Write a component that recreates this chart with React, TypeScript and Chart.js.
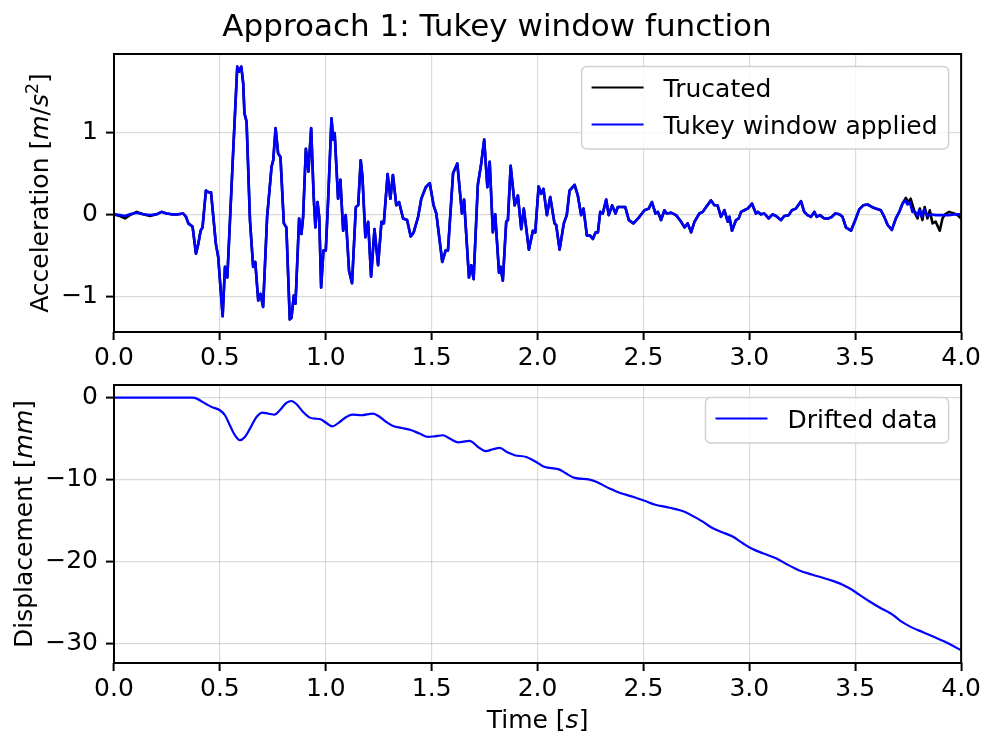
import React, { useEffect, useRef } from "react";
import { Chart, registerables } from "chart.js";

Chart.register(...registerables);

const FONT = "'DejaVu Sans', 'Noto Sans', sans-serif";

// ---- Tick values ----
const timeTicks = [0, 0.5, 1, 1.5, 2, 2.5, 3, 3.5, 4];
const accelTicks = [-1, 0, 1];
const dispTicks = [-30, -20, -10, 0];

// ---- Acceleration [m/s^2]: start segment (window taper) ----
const accelHeadTime = [0, 0.028, 0.052, 0.075, 0.107, 0.138, 0.17, 0.201, 0.225, 0.248, 0.272, 0.303];
const truncatedHead = [0, -0.02, -0.05, -0.01, 0.03, 0.0, -0.02, 0.0, 0.03, 0.01, 0.0, 0.0];
const windowedHead = [0, -0.01, -0.02, 0.0, 0.02, 0.0, -0.01, 0.0, 0.03, 0.01, 0.0, 0.0];

// ---- Acceleration: middle segment (window equals 1) ----
const accelCoreTime = [
  0.327, 0.34, 0.351, 0.371, 0.387, 0.398, 0.409, 0.418, 0.434, 0.445, 0.458, 0.481, 0.492, 0.513,
  0.524, 0.535, 0.544, 0.563, 0.582, 0.591, 0.601, 0.61, 0.616, 0.626, 0.642, 0.657, 0.667, 0.681,
  0.692, 0.704, 0.723, 0.744, 0.752, 0.763, 0.775, 0.786, 0.802, 0.814, 0.83, 0.838, 0.849, 0.857,
  0.874, 0.885, 0.893, 0.906, 0.918, 0.931, 0.943, 0.951, 0.961, 0.969, 0.978, 0.989, 1.0, 1.011,
  1.027, 1.035, 1.042, 1.058, 1.069, 1.082, 1.094, 1.11, 1.124, 1.142, 1.153, 1.165, 1.173, 1.187,
  1.2, 1.214, 1.23, 1.247, 1.263, 1.274, 1.292, 1.305, 1.317, 1.333, 1.346, 1.365, 1.384, 1.401,
  1.415, 1.436, 1.451, 1.472, 1.491, 1.509, 1.522, 1.55, 1.566, 1.577, 1.601, 1.621, 1.643, 1.653,
  1.676, 1.687, 1.698, 1.718, 1.734, 1.748, 1.763, 1.774, 1.789, 1.8, 1.818, 1.825, 1.836, 1.852,
  1.86, 1.873, 1.892, 1.907, 1.923, 1.935, 1.959, 1.978, 1.989, 2.005, 2.017, 2.028, 2.044, 2.06,
  2.08, 2.088, 2.104, 2.124, 2.138, 2.151, 2.175, 2.19, 2.206, 2.217, 2.233, 2.248, 2.261, 2.274,
  2.285, 2.296, 2.308, 2.324, 2.336, 2.352, 2.368, 2.379, 2.395, 2.414, 2.431, 2.453, 2.481, 2.505,
  2.525, 2.54, 2.557, 2.568, 2.583, 2.599, 2.61, 2.63, 2.654, 2.678, 2.694, 2.709, 2.725, 2.741,
  2.764, 2.78, 2.796, 2.819, 2.835, 2.85, 2.866, 2.882, 2.898, 2.906, 2.918, 2.937, 2.95, 2.961,
  2.976, 2.992, 3.013, 3.031, 3.039, 3.055, 3.071, 3.091, 3.11, 3.126, 3.149, 3.165, 3.186, 3.201,
  3.22, 3.244, 3.259, 3.275, 3.291, 3.307, 3.318, 3.333, 3.354, 3.374, 3.39, 3.406, 3.425, 3.44,
  3.456, 3.48, 3.503, 3.519, 3.538, 3.558, 3.579, 3.597, 3.621, 3.637, 3.653, 3.673, 3.692, 3.708,
  3.723,
];
const accelCore = [
  0.01, -0.03, -0.11, -0.15, -0.48, -0.36, -0.2, -0.16, 0.29, 0.27, 0.27, -0.36, -0.52, -1.24,
  -0.64, -0.77, -0.28, 0.78, 1.8, 1.74, 1.8, 1.6, 1.23, 1.13, -0.07, -0.64, -0.58, -1.05,
  -0.97, -1.13, -0.03, 0.58, 0.66, 1.05, 0.74, 0.7, -0.11, -0.16, -1.28, -1.26, -0.99, -1.09,
  -0.05, -0.24, -0.03, 0.8, 0.52, 1.05, 0.21, -0.16, 0.15, -0.03, -0.89, -0.44, -0.44, 0.17,
  1.17, 0.91, 0.99, 0.19, 0.42, -0.2, -0.01, -0.69, -0.84, 0.09, 0.11, 0.66, 0.46, -0.28,
  -0.09, -0.76, -0.18, -0.62, -0.09, -0.11, 0.49, 0.19, 0.48, 0.11, 0.15, -0.05, -0.07, -0.27,
  -0.22, -0.03, 0.19, 0.33, 0.38, 0.11, 0.01, -0.58, -0.44, -0.44, 0.5, 0.62, 0.01, 0.18,
  -0.77, -0.62, -0.79, 0.36, 0.62, 0.91, 0.33, 0.64, -0.22, 0.0, -0.71, -0.64, -0.81, -0.09,
  -0.07, 0.59, 0.11, 0.23, -0.18, 0.07, -0.43, -0.2, -0.22, 0.34, 0.25, 0.31, -0.01, 0.21,
  -0.11, -0.13, -0.43, -0.11, -0.01, 0.29, 0.36, 0.23, -0.01, 0.07, -0.26, -0.26, -0.3, -0.22,
  -0.22, 0.03, 0.01, 0.18, -0.01, 0.11, 0.01, 0.09, 0.09, 0.09, -0.07, -0.11, -0.03, 0.05,
  0.07, 0.15, 0.01, 0.03, -0.07, 0.05, 0.01, 0.02, -0.01, -0.09, -0.16, -0.11, -0.22, -0.09,
  0.01, 0.03, 0.09, 0.17, 0.11, 0.11, -0.03, 0.05, -0.09, -0.03, -0.2, -0.07, -0.05, 0.03,
  0.05, 0.07, 0.13, 0.01, 0.03, 0.0, 0.01, -0.05, 0.0, -0.02, -0.07, -0.02, -0.01, 0.05,
  0.07, 0.16, 0.03, -0.01, -0.03, 0.03, -0.03, -0.01, -0.05, -0.05, -0.03, 0.01, 0.0, -0.03,
  -0.16, -0.2, -0.05, 0.06, 0.11, 0.12, 0.09, 0.07, 0.05, -0.03, -0.13, -0.19, -0.05, 0.03,
  0.13,
];

// ---- Acceleration: end segment (window taper) ----
const truncatedTailTime = [
  3.739, 3.75, 3.762, 3.773, 3.783, 3.794, 3.805, 3.817, 3.828, 3.841, 3.852, 3.865, 3.88, 3.899,
  3.912, 3.924, 3.943, 3.967, 3.983, 4.0,
];
const truncatedTail = [
  0.2, 0.15, 0.19, 0.09, 0.01, -0.05, 0.07, -0.07, 0.09, -0.05, 0.05, -0.11, -0.09, -0.2,
  -0.05, 0.0, 0.03, 0.01, -0.01, -0.05,
];
const windowedTailTime = [
  3.736, 3.747, 3.758, 3.77, 3.783, 3.794, 3.802, 3.814, 3.825, 3.841, 3.857, 3.88, 3.912, 3.943,
  3.975, 4.0,
];
const windowedTail = [
  0.17, 0.12, 0.15, 0.03, 0.03, -0.02, 0.05, -0.03, 0.06, -0.02, 0.0, -0.01, -0.01, -0.01,
  0.0, 0.0,
];

// ---- Displacement [mm] ----
const dispTime = [
  0, 0.374, 0.39, 0.437, 0.461, 0.5, 0.524, 0.547, 0.571, 0.594, 0.618, 0.642, 0.673, 0.701,
  0.728, 0.759, 0.783, 0.814, 0.838, 0.862, 0.893, 0.925, 0.948, 0.975, 1.003, 1.031, 1.066, 1.097,
  1.126, 1.168, 1.223, 1.255, 1.286, 1.318, 1.357, 1.404, 1.443, 1.483, 1.514, 1.553, 1.585, 1.624,
  1.679, 1.719, 1.755, 1.789, 1.821, 1.86, 1.892, 1.947, 1.978, 2.006, 2.025, 2.057, 2.104, 2.135,
  2.175, 2.245, 2.277, 2.34, 2.387, 2.45, 2.505, 2.552, 2.623, 2.694, 2.733, 2.78, 2.819, 2.865,
  2.921, 2.969, 3.008, 3.063, 3.126, 3.181, 3.236, 3.299, 3.377, 3.44, 3.479, 3.519, 3.566, 3.613,
  3.676, 3.715, 3.755, 3.818, 3.881, 3.943, 4.0,
];
const dispValues = [
  0, 0, -0.12, -0.81, -1.14, -1.54, -2.15, -3.37, -4.59, -5.2, -4.8, -3.78, -2.36, -1.83,
  -1.95, -2.07, -1.54, -0.65, -0.41, -0.81, -1.75, -2.44, -2.56, -2.64, -3.09, -3.5, -2.97, -2.36,
  -2.07, -2.15, -1.95, -2.36, -2.97, -3.46, -3.7, -3.98, -4.39, -4.8, -4.72, -4.59, -5.0, -5.45,
  -5.28, -6.02, -6.54, -6.3, -6.14, -6.71, -7.03, -7.24, -7.64, -8.05, -8.38, -8.58, -8.79, -9.27,
  -9.8, -10.0, -10.28, -11.09, -11.62, -12.1, -12.59, -13.04, -13.44, -13.93, -14.45, -15.14, -15.83, -16.36,
  -16.96, -17.77, -18.38, -18.99, -19.6, -20.4, -21.09, -21.62, -22.23, -22.83, -23.36, -24.05, -24.86, -25.59,
  -26.48, -27.29, -27.89, -28.62, -29.31, -30.04, -30.85,
];

type Pt = { x: number; y: number };
const toPoints = (xs: number[], ys: number[]): Pt[] => xs.map((x, i) => ({ x, y: ys[i] }));

const truncatedSeries = [
  ...toPoints(accelHeadTime, truncatedHead),
  ...toPoints(accelCoreTime, accelCore),
  ...toPoints(truncatedTailTime, truncatedTail),
];
const windowedSeries = [
  ...toPoints(accelHeadTime, windowedHead),
  ...toPoints(accelCoreTime, accelCore),
  ...toPoints(windowedTailTime, windowedTail),
];
const driftedSeries = toPoints(dispTime, dispValues);

// 5% autoscale margins on the value axes
function paddedRange(values: number[]): [number, number] {
  const lo = Math.min(...values);
  const hi = Math.max(...values);
  const m = (hi - lo) * 0.05;
  return [lo - m, hi + m];
}
const [accMin, accMax] = paddedRange([...truncatedSeries, ...windowedSeries].map((p) => p.y));
const [dispMin, dispMax] = paddedRange(dispValues);

type Part = { text: string; italic?: boolean; sup?: boolean };
type LegendItem = { label: string; color: string };

const TEXT_SIZE = 25;

function partFont(p: Part, size: number) {
  const s = p.sup ? size * 0.7 : size;
  return `${p.italic ? "italic " : ""}${s}px ${FONT}`;
}
function partsWidth(ctx: CanvasRenderingContext2D, parts: Part[], size: number) {
  let w = 0;
  for (const p of parts) {
    ctx.font = partFont(p, size);
    w += ctx.measureText(p.text).width;
  }
  return w;
}
function drawParts(ctx: CanvasRenderingContext2D, parts: Part[], size: number, x: number, y: number) {
  let cx = x;
  for (const p of parts) {
    ctx.font = partFont(p, size);
    ctx.fillText(p.text, cx, p.sup ? y - size * 0.4 : y);
    cx += ctx.measureText(p.text).width;
  }
}

// Frame, legend box, axis titles and figure title
const decorPlugin = {
  id: "decor",
  afterDatasetsDraw(chart: any, _args: any, opts: any) {
    const ctx: CanvasRenderingContext2D = chart.ctx;
    const a = chart.chartArea;
    ctx.save();

    ctx.strokeStyle = "#000";
    ctx.lineWidth = 2;
    ctx.strokeRect(a.left, a.top, a.right - a.left, a.bottom - a.top);

    ctx.fillStyle = "#000";
    ctx.textBaseline = "alphabetic";
    ctx.textAlign = "left";

    if (opts.yTitle) {
      const parts: Part[] = opts.yTitle.parts;
      const w = partsWidth(ctx, parts, TEXT_SIZE);
      ctx.save();
      ctx.translate(opts.yTitle.baselineX, (a.top + a.bottom) / 2);
      ctx.rotate(-Math.PI / 2);
      drawParts(ctx, parts, TEXT_SIZE, -w / 2, 0);
      ctx.restore();
    }
    if (opts.xTitle) {
      const parts: Part[] = opts.xTitle.parts;
      const w = partsWidth(ctx, parts, TEXT_SIZE);
      drawParts(ctx, parts, TEXT_SIZE, (a.left + a.right) / 2 - w / 2, opts.xTitle.baselineY);
    }
    if (opts.title) {
      ctx.font = `${opts.title.size}px ${FONT}`;
      ctx.textAlign = "center";
      ctx.fillText(opts.title.text, opts.title.x, opts.title.baselineY);
      ctx.textAlign = "left";
    }

    if (opts.legend) {
      const items: LegendItem[] = opts.legend;
      ctx.font = `${TEXT_SIZE}px ${FONT}`;
      const textW = Math.max(...items.map((it) => ctx.measureText(it.label).width));
      const w = 10 + 52 + 20 + textW + 11;
      const h = 21 + 37 * (items.length - 1) + 24.5;
      const right = a.right - 12.5;
      const top = a.top + 12.5;
      const left = right - w;
      ctx.beginPath();
      ctx.roundRect(left, top, w, h, 5);
      ctx.fillStyle = "rgba(255,255,255,0.8)";
      ctx.fill();
      ctx.strokeStyle = "#d0d0d0";
      ctx.lineWidth = 1.5;
      ctx.stroke();
      items.forEach((it, i) => {
        const y = top + 21 + i * 37;
        ctx.beginPath();
        ctx.moveTo(left + 10, y);
        ctx.lineTo(left + 62, y);
        ctx.strokeStyle = it.color;
        ctx.lineWidth = 2.2;
        ctx.stroke();
        ctx.fillStyle = "#000";
        ctx.fillText(it.label, left + 82, y + 9);
      });
    }
    ctx.restore();
  },
};

const minusFmt = (v: number) => (v < 0 ? "\u2212" + String(Math.abs(v)) : String(v));

function makeConfig(opts: {
  datasets: any[];
  yMin: number;
  yMax: number;
  yTicks: number[];
  padTop: number;
  xAxisHeight: number;
  decor: any;
}) {
  const tickFont = { family: FONT, size: TEXT_SIZE };
  const grid = {
    color: "rgba(176,176,176,0.45)",
    lineWidth: 1.2,
    tickLength: 8,
    tickWidth: 2,
    tickColor: "#000",
  };
  return {
    type: "line",
    data: { datasets: opts.datasets },
    options: {
      responsive: false,
      animation: false,
      events: [],
      parsing: false,
      layout: { padding: { top: opts.padTop, right: 22, left: 0, bottom: 0 } },
      elements: { point: { radius: 0 }, line: { tension: 0, borderJoinStyle: "round" } },
      plugins: { legend: { display: false }, tooltip: { enabled: false }, decor: opts.decor },
      scales: {
        x: {
          type: "linear",
          min: 0,
          max: 4,
          afterFit: (s: any) => {
            s.height = opts.xAxisHeight;
          },
          afterBuildTicks: (s: any) => {
            s.ticks = timeTicks.map((v) => ({ value: v }));
          },
          border: { display: false },
          grid,
          ticks: {
            color: "#000",
            font: tickFont,
            padding: 3,
            maxRotation: 0,
            autoSkip: false,
            callback: (v: number) => v.toFixed(1),
          },
        },
        y: {
          type: "linear",
          min: opts.yMin,
          max: opts.yMax,
          afterFit: (s: any) => {
            s.width = 114;
          },
          afterBuildTicks: (s: any) => {
            s.ticks = opts.yTicks.map((v) => ({ value: v }));
          },
          border: { display: false },
          grid,
          ticks: {
            color: "#000",
            font: tickFont,
            padding: 8,
            autoSkip: false,
            callback: (v: number) => minusFmt(v),
          },
        },
      },
    },
    plugins: [decorPlugin],
  };
}

export default function App() {
  const topRef = useRef<HTMLCanvasElement>(null);
  const bottomRef = useRef<HTMLCanvasElement>(null);

  useEffect(() => {
    const top = new Chart(
      topRef.current as HTMLCanvasElement,
      makeConfig({
        datasets: [
          { label: "Tukey window applied", data: windowedSeries, borderColor: "#0000ff", borderWidth: 2.6 },
          { label: "Trucated", data: truncatedSeries, borderColor: "#000000", borderWidth: 2.6 },
        ],
        yMin: accMin,
        yMax: accMax,
        yTicks: accelTicks,
        padTop: 54,
        xAxisHeight: 738 - 332,
        decor: {
          yTitle: {
            baselineX: 48,
            parts: [
              { text: "Acceleration [" },
              { text: "m", italic: true },
              { text: "/" },
              { text: "s", italic: true },
              { text: "2", sup: true },
              { text: "]" },
            ],
          },
          title: { text: "Approach 1: Tukey window function", x: 497, baselineY: 36, size: 31 },
          legend: [
            { label: "Trucated", color: "#000000" },
            { label: "Tukey window applied", color: "#0000ff" },
          ],
        },
      }) as any
    );
    const bottom = new Chart(
      bottomRef.current as HTMLCanvasElement,
      makeConfig({
        datasets: [
          {
            label: "Drifted data",
            data: driftedSeries,
            borderColor: "#0000ff",
            borderWidth: 2.2,
            cubicInterpolationMode: "monotone",
          },
        ],
        yMin: dispMin,
        yMax: dispMax,
        yTicks: dispTicks,
        padTop: 385,
        xAxisHeight: 738 - 663,
        decor: {
          yTitle: {
            baselineX: 32,
            parts: [{ text: "Displacement [" }, { text: "mm", italic: true }, { text: "]" }],
          },
          xTitle: {
            baselineY: 728,
            parts: [{ text: "Time [" }, { text: "s", italic: true }, { text: "]" }],
          },
          legend: [{ label: "Drifted data", color: "#0000ff" }],
        },
      }) as any
    );
    return () => {
      top.destroy();
      bottom.destroy();
    };
  }, []);

  const canvasStyle: React.CSSProperties = {
    position: "absolute",
    left: 0,
    top: 0,
    width: 984,
    height: 738,
  };
  return (
    <div style={{ position: "absolute", left: 0, top: 0, width: 984, height: 738, background: "#fff" }}>
      <canvas ref={topRef} width={984} height={738} style={canvasStyle} />
      <canvas ref={bottomRef} width={984} height={738} style={canvasStyle} />
    </div>
  );
}
